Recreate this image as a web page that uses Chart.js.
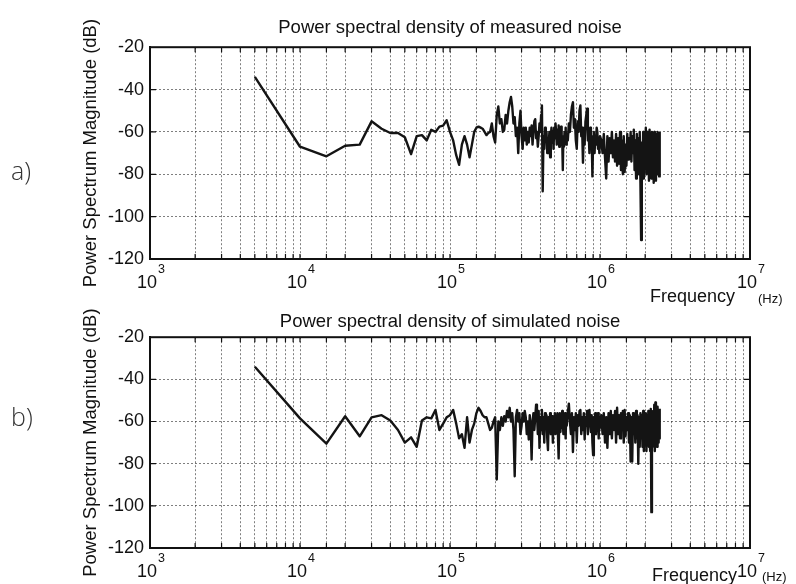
<!DOCTYPE html>
<html><head><meta charset="utf-8">
<script src="https://cdn.jsdelivr.net/npm/chart.js@4.4.1/dist/chart.umd.min.js"></script>
<style>
html,body{margin:0;padding:0;background:#fff;}
#wrap{position:relative;width:796px;height:584px;overflow:hidden;background:#fff;font-family:"Liberation Sans",Arial,sans-serif;}
canvas{position:absolute;left:0;}
.lbl{position:absolute;white-space:nowrap;color:#111;line-height:1;}
.panel{font-family:"Open Sans","DejaVu Sans",sans-serif;font-weight:300;font-size:25px;color:#333;}
</style></head><body>
<div id="wrap">
<canvas id="c1" width="796" height="294" style="top:0;width:796px;height:294px"></canvas>
<canvas id="c2" width="796" height="294" style="top:290px;width:796px;height:294px"></canvas>
<div class="lbl panel" style="left:11px;top:158px;">a)</div>
<div class="lbl panel" style="left:11px;top:404px;">b)</div>
<div class="lbl" style="left:650px;top:287px;font-size:18px;">Frequency</div>
<div class="lbl" style="left:758px;top:292px;font-size:13px;">(Hz)</div>
<div class="lbl" style="left:652px;top:566px;font-size:18px;">Frequency</div>
<div class="lbl" style="left:762px;top:570px;font-size:13px;">(Hz)</div>
</div>
<script>
// ---- frequency grid (kHz) ----
const freqLowKHz = [5,10,15,20,25,30,35,40,45,50,55,60,65,70,75,80,85,90,95,100,105,110,115,120,125,130,135,140,145,150,155,160,165,170,175,180,185,190,195,200];
const freqMidKHz = [205,210,215,220,225,230,235,240,245,250,255,260,265,270,275,280,285,290,295,300,305,310,315,320,325,330,335,340,345,350,355,360,365,370,375,380,385,390,395,400,405,410,415,420,425,430,435,440,445,450,455,460,465,470,475,480,485,490,495,500,505,510,515,520,525,530,535,540,545,550,555,560,565,570,575,580,585,590,595,600];
const freqHighKHz = [610,620,630,640,650,660,670,680,690,700,710,720,730,740,750,760,770,780,790,800,810,820,830,840,850,860,870,880,890,900,910,920,930,940,950,960,970,980,990,1000];
const freqTopKHz = [1020,1040,1060,1080,1100,1120,1140,1160,1180,1200,1220,1240,1260,1280,1300,1320,1340,1360,1380,1400,1420,1440,1460,1480,1500,1520,1540,1560,1580,1600,1620,1640,1660,1680,1700,1720,1740,1760,1780,1800,1820,1840,1860,1880,1900,1920,1940,1960,1980,2000,2020,2040,2060,2080,2100,2120,2140,2160,2180,2200,2220,2240,2260,2280,2300,2320,2340,2360,2380,2400,2420,2440,2460,2480,2500];

// ---- measured noise PSD (dB) ----
const measuredDb = [
 -34,-67,-71.5,-66.5,-66,-55,-58.5,-60.5,-60.5,-62.5,-70.5,-62,-61.5,-64,-59,-60,-57.5,-57,-54.5,-60,
 -64,-71,-75.5,-66,-62,-66,-72,-66,-60,-58,-57.5,-58,-58.5,-60,-61.5,-60.5,-60,-56,-62,-65,
 -52,-48,-56,-54,-60,-59,-52,-56,-50,-46,-43.5,-48,-56,-53,-62,-58,-70,-56,-50,-62,
 -68,-58,-64,-58,-66,-60,-65,-58,-62,-57,-66,-60,-55,-54,-63,-60,-67,-62,-56,-60,
 -52,-47.5,-88,-62,-68,-58,-64,-60,-70,-63,-66,-60,-72,-62,-58,-65,-60,-68,-58,-63,
 -56,-60,-66,-59,-64,-57,-67,-58,-62,-57.5,-66,-64,-78,-62,-67,-60,-64,-58,-66,-62,
 -64,-56,-60,-52,-48,-46,-58,-54,-64,-68,-55,-60,-50,-47.5,-62,-58,-74.5,-60,-66,-55,
 -52,-49,-64,-60,-70,-58,-65,-62,-81,-64,-60,-70,-62,-66,-58,-60,-68,-63,-70,-62,
 -64,-70,-61,-72,-82,-62,-74,-63,-70,-60,-72,-64,-74,-61,-76,-63,-75,-60,-78,-64,
 -80,-62,-79,-66,-76,-61,-73,-63,-71,-60,-74,-62,-70,-59,-78,-64,-82,-61,-76,-63,
 -80,-60,-84,-111,-65,-78,-60,-82,-62,-72,-58,-80,-60,-76,-62,-83,-59,-78,-63,-82,
 -60,-76,-62,-84,-60,-79,-61,-83,-63,-80,-60,-78,-62,-81,-60
];

// ---- simulated noise PSD (dB) ----
const simulatedDb = [
 -34,-58.5,-70.5,-57.5,-67,-58,-57,-59.5,-64,-70,-67.5,-72,-59.5,-58,-58.5,-54.5,-64,-61,-58,-57,
 -54.5,-61,-68,-66,-72.5,-58,-70,-64,-61,-56,-53.5,-55,-57,-58,-58,-61,-64,-63,-60,-58,
 -87.5,-60,-64,-58,-62,-57.5,-60,-55,-58,-53.5,-60,-56,-64,-86,-58,-54.5,-60,-56,-66,-62,
 -56,-60,-55,-58,-66,-60,-68.5,-57,-62,-78,-60,-56,-64,-58,-52,-56,-66,-55,-72.5,-58,
 -64,-54.5,-66,-58,-70,-56,-62,-57,-68,-73.5,-58,-64,-56,-66,-60,-57.5,-70,-58,-63,-56,
 -66,-59,-62,-56,-68,-77.5,-60,-56,-65,-58,-63,-55,-59.5,-66,-57,-62,-56,-68,-58,-62,
 -56,-51.5,-60,-66,-56,-74.5,-58,-64,-56,-70,-57,-62,-55,-54.5,-66,-58,-64,-56,-68.5,-58,
 -62,-55,-66,-57,-54.5,-60,-65,-57,-70,-76,-58,-62,-56,-66,-57,-64,-56,-68,-58,-63,
 -57,-66,-56,-70,-58,-72.5,-56,-66,-55,-68,-57,-64,-55,-70,-53.5,-66,-57,-68,-56,-64,
 -55,-70,-54.5,-67,-58,-64,-56,-70,-57,-79,-58,-79,-56,-66,-57,-70,-55,-68,-57,-80,
 -58,-72,-56,-68,-57,-72,-55,-74,-58,-70,-56,-74,-57,-68,-55,-72,-57,-74,-54,-103,
 -58,-72,-55,-70,-52,-74,-51,-68,-55,-72,-53,-70,-56,-68,-54
];

// ---- axes ----
const yTickValues = [-120,-100,-80,-60,-40,-20];
const xDecadeExponents = [3,4,5,6,7];
const xDecadeBase = '10';
const titleMeasured = 'Power spectral density of measured noise';
const titleSimulated = 'Power spectral density of simulated noise';
const yAxisTitle = 'Power Spectrum Magnitude (dB)';

const freqKHz = freqLowKHz.concat(freqMidKHz, freqHighKHz, freqTopKHz);
function toPoints(vals){
  const n = Math.min(vals.length, freqKHz.length);
  const pts = [];
  for (let i = 0; i < n; i++) pts.push({x: freqKHz[i]*1000, y: vals[i]});
  return pts;
}

const FONT = '"Liberation Sans", Arial, sans-serif';

// frame, inward tick marks and decade labels "10^n" drawn at the x scale's pixel positions
const framePlugin = {
  id: 'frame',
  afterDraw(chart){
    const {ctx, chartArea: a, scales} = chart;
    ctx.save();
    ctx.strokeStyle = '#111';
    ctx.lineWidth = 1.2;
    ctx.beginPath();
    scales.x.ticks.forEach(t => {
      const px = scales.x.getPixelForValue(t.value);
      if (px <= a.left+1 || px >= a.right-1) return;
      ctx.moveTo(px, a.bottom); ctx.lineTo(px, a.bottom-5);
      ctx.moveTo(px, a.top); ctx.lineTo(px, a.top+5);
    });
    scales.y.ticks.forEach(t => {
      const py = scales.y.getPixelForValue(t.value);
      if (py <= a.top+1 || py >= a.bottom-1) return;
      ctx.moveTo(a.left, py); ctx.lineTo(a.left+6, py);
      ctx.moveTo(a.right, py); ctx.lineTo(a.right-6, py);
    });
    ctx.stroke();
    ctx.lineWidth = 2;
    ctx.strokeRect(a.left, a.top, a.right-a.left, a.bottom-a.top);

    ctx.fillStyle = '#111';
    ctx.textBaseline = 'alphabetic';
    xDecadeExponents.forEach(e => {
      const px = scales.x.getPixelForValue(Math.pow(10, e));
      ctx.font = '18px ' + FONT;
      ctx.textAlign = 'right';
      ctx.fillText(xDecadeBase, px + 7, a.bottom + 29);
      ctx.font = '12.5px ' + FONT;
      ctx.textAlign = 'left';
      ctx.fillText(String(e), px + 8, a.bottom + 14);
    });
    ctx.restore();
  }
};

function makeChart(id, values, title, titlePad, xAxisHeight){
  return new Chart(document.getElementById(id), {
    type: 'line',
    data: { datasets: [{
      data: toPoints(values),
      borderColor: '#141414',
      borderWidth: 2.4,
      borderJoinStyle: 'round',
      pointRadius: 0,
      tension: 0,
      fill: false
    }]},
    options: {
      responsive: false,
      animation: false,
      devicePixelRatio: 1,
      layout: { padding: { left: 78, right: 46, top: 0, bottom: 0 } },
      plugins: {
        legend: { display: false },
        tooltip: { enabled: false },
        title: {
          display: true, text: title, fullSize: false,
          color: '#111',
          font: { family: FONT, size: 18.5, weight: 'normal' },
          padding: titlePad
        }
      },
      scales: {
        x: {
          type: 'logarithmic', min: 1000, max: 10000000,
          afterFit: s => { s.height = xAxisHeight; },
          grid: { color: 'rgba(0,0,0,0.5)', lineWidth: 1, drawTicks: false },
          border: { display: true, color: '#111', width: 2, dash: [2,2] },
          ticks: { display: false, autoSkip: false, maxRotation: 0 }
        },
        y: {
          min: -120, max: -20,
          afterFit: s => { s.width = 72; },
          afterBuildTicks: s => { s.ticks = yTickValues.map(v => ({value: v})); },
          grid: { color: 'rgba(0,0,0,0.5)', lineWidth: 1, drawTicks: false },
          border: { display: true, color: '#111', width: 2, dash: [2,2] },
          ticks: { padding: 6, color: '#111', font: { family: FONT, size: 18 } },
          title: { display: true, text: yAxisTitle, color: '#111', padding: {top: 2, bottom: 0},
                   font: { family: FONT, size: 18.5 } }
        }
      }
    },
    plugins: [framePlugin]
  });
}

makeChart('c1', measuredDb, titleMeasured, {top: 17, bottom: 8}, 35);
makeChart('c2', simulatedDb, titleSimulated, {top: 21, bottom: 4}, 36);
</script>
</body></html>
